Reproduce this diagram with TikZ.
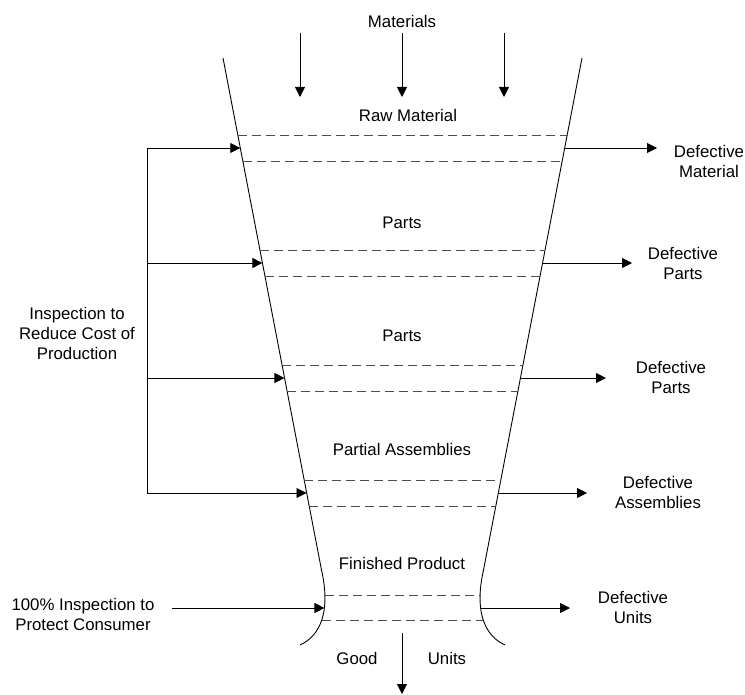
\documentclass[tikz,border=0pt]{standalone}
\usepackage{fontspec}
\setmainfont{Liberation Sans}
\usetikzlibrary{arrows.meta}
\begin{document}
\begin{tikzpicture}[x=1pt,y=-1pt,
  wall/.style={line width=0.9pt},
  level/.style={line width=0.9pt, black!70, dash pattern=on 9pt off 5pt},
  flow/.style={line width=0.9pt, -{Triangle[length=10pt,width=10pt]}},
  lbl/.style={font=\fontsize{16.8}{20}\selectfont, align=center, inner sep=0pt}]
\useasboundingbox (0,0) rectangle (745,695);

% ---- funnel walls ----
\coordinate (FL0) at (223,58);
\coordinate (FR0) at (582,58);
\coordinate (FL1) at (321.5,570);
\coordinate (FR1) at (483.5,570);
\coordinate (FLe) at (300,645);
\coordinate (FRe) at (505,645);
\draw[wall] (FL0) -- (FL1) .. controls (331,612) and (320,636) .. (FLe);
\draw[wall] (FR0) -- (FR1) .. controls (474,612) and (485,636) .. (FRe);

% ---- inspection levels on the straight part of the funnel ----
\foreach \i/\y in {1/148,2/263,3/378,4/493}{
  \coordinate (WL\i) at ({223+0.192*(\y-58)},\y);
  \coordinate (WR\i) at ({582-0.192*(\y-58)},\y);
  \draw[level] ({223+0.192*(\y-13-58)},\y-13) -- ({582-0.192*(\y-13-58)},\y-13);
  \draw[level] ({223+0.192*(\y+13-58)},\y+13) -- ({582-0.192*(\y+13-58)},\y+13);
}
% final level on the flared bottom
\coordinate (WL5) at (324.4,608);
\coordinate (WR5) at (480.6,608);
\draw[level] (325,595) -- (480,595);
\draw[level] (322,620) -- (483,620);

% ---- incoming materials ----
\node[lbl] (mat) at (402,21) {Materials};
\foreach \x [count=\k] in {300,402,504}{
  \coordinate (in\k) at (\x,33);
  \coordinate (out\k) at (\x,97);
  \draw[flow] (in\k) -- (out\k);
}

% ---- stage names ----
\node[lbl] (s1) at (408,115) {Raw Material};
\node[lbl] (s2) at (402,223) {Parts};
\node[lbl] (s3) at (402,336) {Parts};
\node[lbl] (s4) at (402,449) {Partial Assemblies};
\node[lbl] (s5) at (402,563) {Finished Product};

% ---- inspection to reduce cost ----
\node[lbl] (cost) at (77,333) {Inspection to\\Reduce Cost of\\Production};
\coordinate (B1) at (147,148);
\coordinate (B2) at (147,263);
\coordinate (B3) at (147,378);
\coordinate (B4) at (147,493);
\draw[wall] (B1) -- (B4);
\foreach \i in {1,2,3,4}{ \draw[flow] (B\i) -- (WL\i); }

% ---- 100% inspection ----
\node[lbl] (cons) at (83,614) {100\% Inspection to\\Protect Consumer};
\coordinate (C0) at (172,608);
\draw[flow] (C0) -- (WL5);

% ---- rejects ----
\coordinate (D1) at (657,148);
\coordinate (D2) at (632,263);
\coordinate (D3) at (606,378);
\coordinate (D4) at (587,493);
\coordinate (D5) at (570,608);
\foreach \i in {1,...,5}{ \draw[flow] (WR\i) -- (D\i); }
\node[lbl] (r1) at (709,161) {Defective\\Material};
\node[lbl] (r2) at (683,263) {Defective\\Parts};
\node[lbl] (r3) at (671,377) {Defective\\Parts};
\node[lbl] (r4) at (658,492) {Defective\\Assemblies};
\node[lbl] (r5) at (633,607.5) {Defective\\Units};

% ---- good units out ----
\coordinate (G0) at (402,633);
\coordinate (G1) at (402,694);
\draw[flow] (G0) -- (G1);
\node[lbl] (good) at (357,658) {Good};
\node[lbl] (units) at (447,658) {Units};
\end{tikzpicture}
\end{document}
